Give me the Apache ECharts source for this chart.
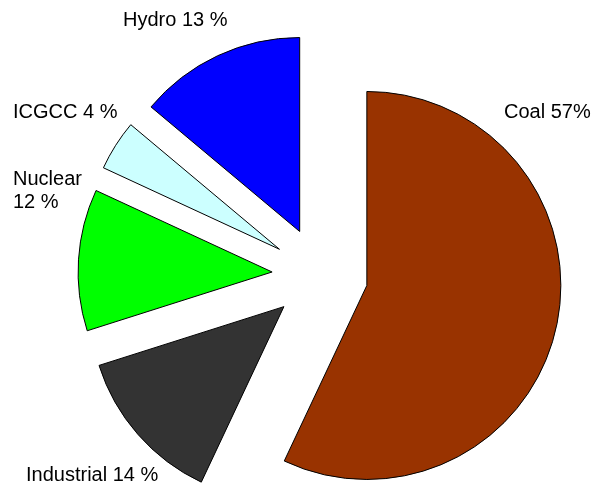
<!DOCTYPE html>
<html>
<head>
<meta charset="utf-8">
<script src="https://cdn.jsdelivr.net/npm/echarts@6/dist/echarts.min.js"></script>
<style>
html,body{margin:0;padding:0;background:#fff;}
#chart{width:593px;height:487px;}
</style>
</head>
<body>
<div id="chart"></div>
<script>
var categories = ['Coal', 'Industrial', 'Nuclear', 'ICGCC', 'Hydro'];
// slice sizes as drawn (angles)
var values = [57.0, 13.1, 11.8, 4.2, 13.9];
var labelTexts = ['Coal 57%', 'Industrial 14 %', 'Nuclear\n12 %', 'ICGCC 4 %', 'Hydro 13 %'];
var colors = ['#993300', '#333333', '#00ff00', '#ccffff', '#0000ff'];

// label anchor positions (left, vertical middle)
var labelPos = [[504, 112], [26, 475], [13, 191], [13, 112], [123, 20]];

var chart = echarts.init(document.getElementById('chart'));
var data = categories.map(function (c, i) {
  return {
    name: c,
    value: values[i],
    selected: true,
    itemStyle: { color: colors[i] }
  };
});
var graphics = labelTexts.map(function (t, i) {
  return {
    type: 'text',
    x: labelPos[i][0],
    y: labelPos[i][1],
    style: {
      text: t,
      fill: '#000000',
      font: '20px "Liberation Sans", Arial, sans-serif',
      lineHeight: 23,
      textAlign: 'left',
      textVerticalAlign: 'middle'
    }
  };
});
chart.setOption({
  animation: false,
  backgroundColor: '#ffffff',
  graphic: graphics,
  series: [{
    type: 'pie',
    center: [320, 275],
    radius: [0, 194],
    startAngle: 90,
    clockwise: true,
    selectedMode: 'multiple',
    selectedOffset: 48,
    emphasis: { disabled: true },
    itemStyle: { borderColor: '#000000', borderWidth: 1 },
    label: { show: false },
    labelLine: { show: false },
    data: data
  }]
});
</script>
</body>
</html>
